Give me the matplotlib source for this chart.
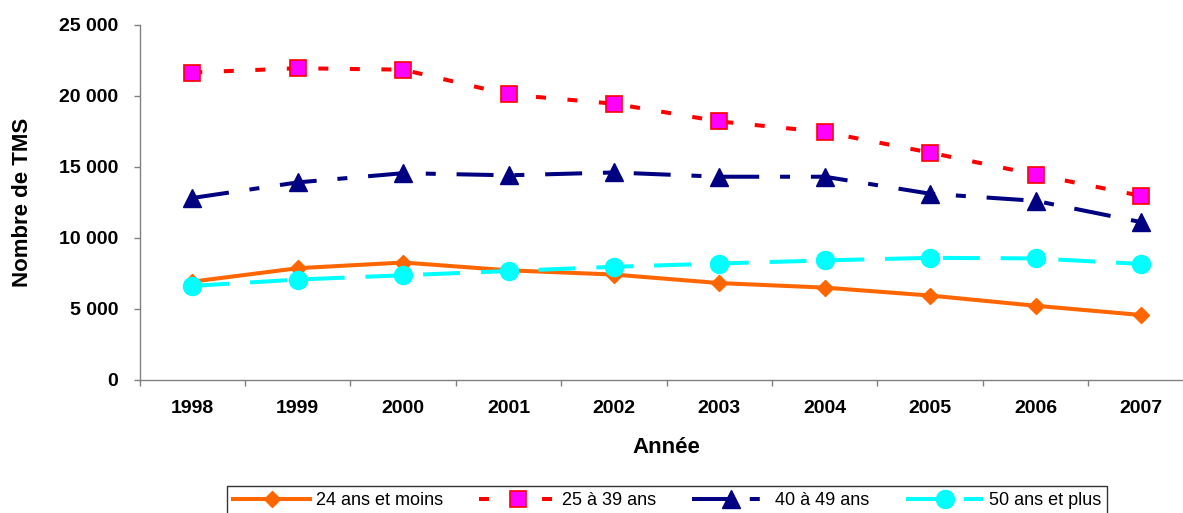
import matplotlib
matplotlib.use("Agg")
import matplotlib.pyplot as plt
from matplotlib.ticker import FuncFormatter, FixedLocator

plt.rcParams['font.family'] = ['Liberation Sans', 'DejaVu Sans']
plt.rcParams['lines.scale_dashes'] = False

years = ["1998", "1999", "2000", "2001", "2002", "2003", "2004", "2005", "2006", "2007"]
age_24_moins = [6900, 7850, 8250, 7700, 7400, 6800, 6480, 5920, 5200, 4550]
age_25_39 = [21650, 21950, 21850, 20100, 19450, 18200, 17450, 16000, 14450, 12950]
age_40_49 = [12800, 13900, 14550, 14400, 14600, 14300, 14300, 13100, 12600, 11100]
age_50_plus = [6600, 7050, 7350, 7650, 7950, 8180, 8400, 8580, 8540, 8150]

labels = ["24 ans et moins", "25 à 39 ans", "40 à 49 ans", "50 ans et plus"]

fig = plt.figure(figsize=(11.83, 5.13), dpi=100)
ax = fig.add_axes([139.6 / 1183, (513 - 379.5) / 513, (1193.7 - 139.6) / 1183, (379.5 - 25) / 513])

x = list(range(len(years)))
lw = 2.9
ax.plot(x, age_24_moins, color='#FF6600', lw=lw, marker='D', ms=8.5,
        mfc='#FF6600', mec='#FF6600', label=labels[0], zorder=3)
ax.plot(x, age_25_39, color='#FF0000', lw=lw, dashes=(7.2, 15.5), marker='s', ms=11,
        mfc='#FF00FF', mec='#FF0000', mew=1.2, label=labels[1], zorder=3)
ax.plot(x, age_40_49, color='#000080', lw=lw, dashes=(26.6, 15, 7.2, 15), marker='^', ms=12.5,
        mfc='#000080', mec='#000080', label=labels[2], zorder=3)
ax.plot(x, age_50_plus, color='#00FFFF', lw=lw, dashes=(26.6, 15), marker='o', ms=13,
        mfc='#00FFFF', mec='#00FFFF', label=labels[3], zorder=4)

ax.set_xlim(-0.5, len(years) - 0.5)
ax.set_ylim(0, 25000)
ax.set_yticks(range(0, 25001, 5000))
ax.yaxis.set_major_formatter(FuncFormatter(lambda v, p: f"{int(v):,}".replace(",", " ")))
ax.set_xticks(x)
ax.set_xticklabels(years)
ax.xaxis.set_minor_locator(FixedLocator([i - 0.5 for i in range(len(years) + 1)]))

for s in ['top', 'right']:
    ax.spines[s].set_visible(False)
for s in ['left', 'bottom']:
    ax.spines[s].set_color('#808080')
    ax.spines[s].set_linewidth(1.0)

ax.tick_params(axis='y', which='major', direction='out', length=4.3, width=1.0, color='#808080',
               pad=11, labelsize=14)
ax.tick_params(axis='x', which='major', length=0, pad=15, labelsize=14)
ax.tick_params(axis='x', which='minor', direction='out', length=4, width=1.0, color='#808080')
for lab in ax.get_xticklabels() + ax.get_yticklabels():
    lab.set_fontweight('bold')

ax.set_xlabel("Année", fontsize=16, fontweight='bold', labelpad=14)
ax.set_ylabel("Nombre de TMS", fontsize=16, fontweight='bold', labelpad=19)

leg = fig.legend(loc='upper center', bbox_to_anchor=((227 + 1107) / 2 / 1183, 1 - 486 / 513),
                 ncol=4, fontsize=13, frameon=True, fancybox=False, edgecolor='black',
                 handlelength=4.3, columnspacing=2.0, handletextpad=0.3, borderpad=0.35,
                 borderaxespad=0)
leg.get_frame().set_linewidth(1.0)

fig.savefig("out.png", dpi=100)
